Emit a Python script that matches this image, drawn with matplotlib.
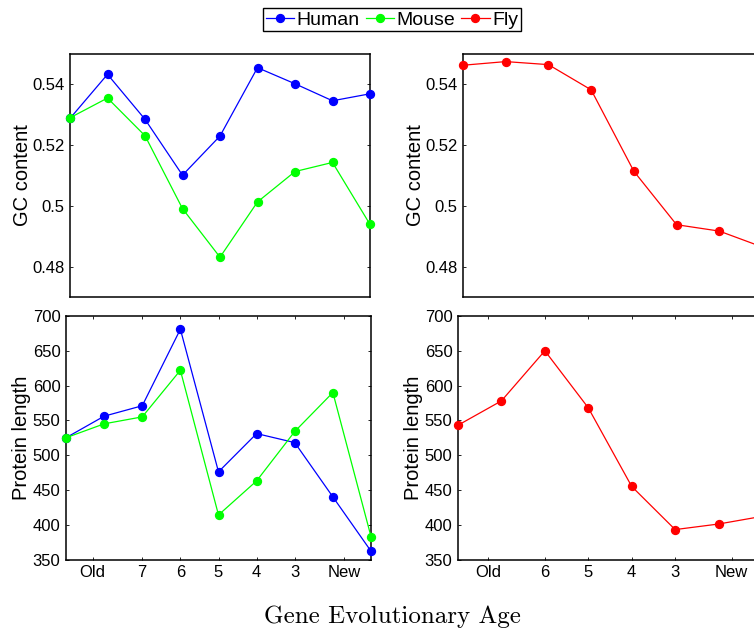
import matplotlib
matplotlib.use("Agg")
import matplotlib.pyplot as plt
from matplotlib.ticker import FormatStrFormatter

plt.rcParams['font.family'] = ['Liberation Sans', 'DejaVu Sans']

# ---- data ----
ages_mammal = ["Old", "7", "6", "5", "4", "3", "New"]
ages_fly = ["Old", "6", "5", "4", "3", "New"]
mammal_tick_pos = [0.7, 2, 3, 4, 5, 6, 7.3]
fly_tick_pos = [0.7, 2, 3, 4, 5, 6.3]

human_gc = [0.5288, 0.5433, 0.5285, 0.5101, 0.5230, 0.5455, 0.5402, 0.5346, 0.5369]
mouse_gc = [0.5290, 0.5355, 0.5231, 0.4991, 0.4831, 0.5013, 0.5113, 0.5143, 0.4939]
fly_gc = [0.5463, 0.5475, 0.5465, 0.5382, 0.5114, 0.4938, 0.4917, 0.4865]

human_len = [525, 556, 571, 681, 476, 531, 518, 440, 362]
mouse_len = [525, 545, 555, 622, 414, 463, 534, 590, 383]
fly_len = [543, 578, 650, 568, 455, 393, 401, 412]

W, H = 754, 632
fig = plt.figure(figsize=(W / 100, H / 100), dpi=100)

def rect(x0, x1, y0, y1):
    return [x0 / W, 1 - y1 / H, (x1 - x0) / W, (y1 - y0) / H]

ax_tl = fig.add_axes(rect(70, 370, 54, 297))
ax_tr = fig.add_axes(rect(463, 762, 54, 297))
ax_bl = fig.add_axes(rect(66, 371, 316, 559.5))
ax_br = fig.add_axes(rect(458, 762, 316, 559.5))

lkw = dict(lw=0.9, marker='o', ms=5.7, clip_on=False, zorder=3)
BLUE, GREEN, RED = (0, 0, 1), (0, 1, 0), (1, 0, 0)

xm = list(range(len(human_gc)))
xf = list(range(len(fly_gc)))

h1, = ax_tl.plot(xm, human_gc, color=BLUE, label="Human", **lkw)
h2, = ax_tl.plot(xm, mouse_gc, color=GREEN, label="Mouse", **lkw)
h3, = ax_tr.plot(xf, fly_gc, color=RED, label="Fly", **lkw)

ax_bl.plot(xm, human_len, color=BLUE, **lkw)
ax_bl.plot(xm, mouse_len, color=GREEN, **lkw)
ax_br.plot(xf, fly_len, color=RED, **lkw)

for ax in (ax_tl, ax_tr):
    ax.set_ylim(0.47, 0.55)
    ax.set_yticks([0.48, 0.50, 0.52, 0.54])
    ax.yaxis.set_major_formatter(FormatStrFormatter('%g'))
    ax.set_xticks([])
    ax.set_ylabel("GC content", fontsize=14.5, labelpad=0)

for ax in (ax_bl, ax_br):
    ax.set_ylim(350, 700)
    ax.set_yticks(range(350, 701, 50))
    ax.set_ylabel("Protein length", fontsize=14.5, labelpad=1)

ax_tl.set_xlim(0, 8)
ax_bl.set_xlim(0, 8)
ax_tr.set_xlim(0, 7)
ax_br.set_xlim(0, 7)

ax_bl.set_xticks(mammal_tick_pos)
ax_bl.set_xticklabels(ages_mammal)
ax_br.set_xticks(fly_tick_pos)
ax_br.set_xticklabels(ages_fly)

for ax in (ax_tl, ax_tr, ax_bl, ax_br):
    ax.tick_params(direction='in', length=2.5, width=0.6, labelsize=12,
                   top=True, right=True, pad=4, colors='black')
    for s in ax.spines.values():
        s.set_linewidth(1.1)
        s.set_color('black')

fig.legend(handles=[h1, h2, h3], loc='upper center',
           bbox_to_anchor=(392 / W, 1 - 8 / H), ncol=3, fontsize=14,
           frameon=True, fancybox=False, edgecolor='black', framealpha=1,
           handlelength=1.45, handletextpad=0.15, columnspacing=0.3,
           borderpad=0.15, borderaxespad=0)
leg = fig.legends[0]
leg.get_frame().set_linewidth(1.0)

fig.text(392 / W, 1 - 617 / H, "Gene Evolutionary Age", family='cmr10',
         fontsize=18, ha='center', va='center')

fig.savefig("out.png", dpi=100)
